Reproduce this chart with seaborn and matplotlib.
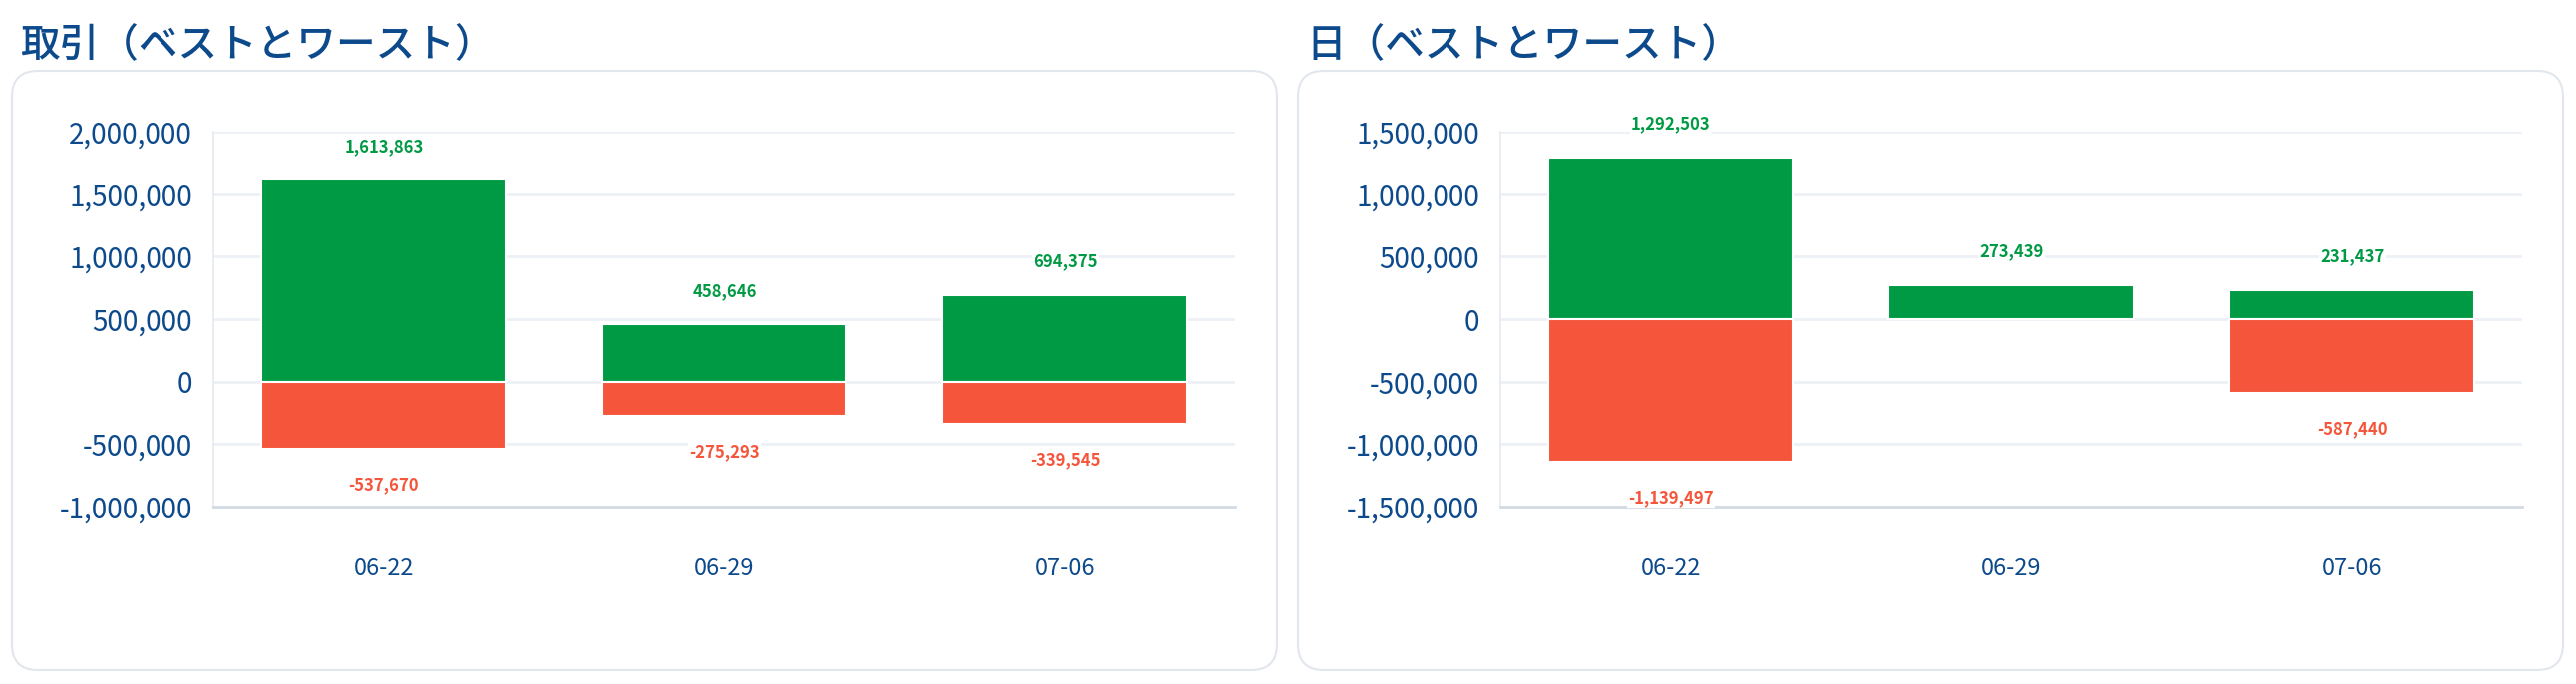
import matplotlib
matplotlib.use('Agg')
import matplotlib.pyplot as plt
from matplotlib.patches import FancyBboxPatch
from matplotlib.ticker import FuncFormatter
import numpy as np
import pandas as pd
import seaborn as sns

sns.set_theme(style='white')
plt.rcParams['font.family'] = ['Noto Sans CJK JP', 'DejaVu Sans']

# data
dates = ['06-22', '06-29', '07-06']
trade_best = [1613863, 458646, 694375]
trade_worst = [-537670, -275293, -339545]
day_best = [1292503, 273439, 231437]
day_worst = [-1139497, np.nan, -587440]

titles = ['取引（ベストとワースト）', '日（ベストとワースト）']
ylims = [(-1000000, 2000000), (-1500000, 1500000)]

GREEN = '#009944'
RED = '#f5553b'
BLUE = '#0d4a8c'

fig = plt.figure(figsize=(25.84, 6.86), dpi=100)
W, H = 2584, 686

def card(x0, y0, x1, y1):
    p = FancyBboxPatch((x0 / W, 1 - y1 / H), (x1 - x0) / W, (y1 - y0) / H,
                       boxstyle='round,pad=0,rounding_size=0.01',
                       transform=fig.transFigure, facecolor='white',
                       edgecolor='#e2e7ed', linewidth=1.5, mutation_aspect=W / H,
                       zorder=-5)
    fig.patches.append(p)

cards = [(12, 71, 1281, 672), (1302, 71, 2571, 672)]
axes_left = [214, 1505]

for i, (best, worst) in enumerate([(trade_best, trade_worst), (day_best, day_worst)]):
    card(*cards[i])
    ax = fig.add_axes([axes_left[i] / W, (H - 508) / H, 1025 / W, 376 / H])
    ax.set_zorder(2)
    ax.set_facecolor('none')

    df = pd.DataFrame({
        'date': dates * 2,
        'value': list(best) + list(worst),
        'kind': ['best'] * 3 + ['worst'] * 3,
    })
    sns.barplot(data=df, x='date', y='value', hue='kind', dodge=False,
                palette={'best': GREEN, 'worst': RED}, width=0.72, saturation=1,
                edgecolor='white', linewidth=1.5, ax=ax, legend=False)

    for j, d in enumerate(dates):
        for v, c, off in [(best[j], GREEN, 24), (worst[j], RED, -26)]:
            if pd.isna(v):
                continue
            ax.annotate(f'{v:,.0f}', (j, v), xytext=(0, off), textcoords='offset points',
                        ha='center', va='center', fontsize=12, fontweight='bold', color=c,
                        bbox=dict(facecolor='white', edgecolor='none', pad=1), zorder=5)

    lo, hi = ylims[i]
    ax.set_ylim(lo, hi)
    ax.set_xlim(-0.5, 2.5)
    ax.set_yticks(np.arange(lo, hi + 1, 500000))
    ax.yaxis.set_major_formatter(FuncFormatter(lambda v, p: f'{v:,.0f}'))
    ax.grid(axis='y', color='#edf1f5', linewidth=2)
    ax.set_axisbelow(True)
    ax.tick_params(axis='y', length=0, pad=15, labelsize=20, labelcolor=BLUE)
    ax.tick_params(axis='x', length=0, pad=37, labelsize=17, labelcolor=BLUE)
    ax.set_xlabel('')
    ax.set_ylabel('')
    for s in ['top', 'right']:
        ax.spines[s].set_visible(False)
    ax.spines['left'].set_color('#e6ebf0')
    ax.spines['bottom'].set_color('#d3dbe3')
    ax.spines['bottom'].set_linewidth(2)

    fig.text((cards[i][0] + 8) / W, 1 - 46 / H, titles[i], fontsize=28.5,
             fontweight='medium', color=BLUE, ha='left', va='center')

fig.savefig('out.png', dpi=100, facecolor='white')
